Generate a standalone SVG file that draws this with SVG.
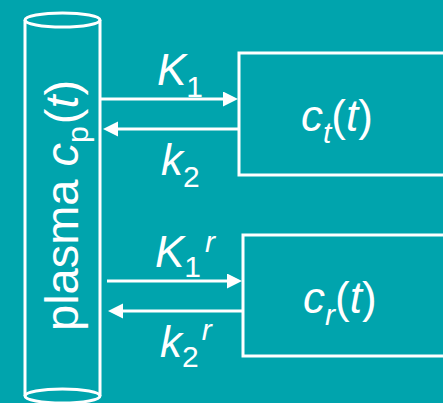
<svg xmlns="http://www.w3.org/2000/svg" width="443" height="403" viewBox="0 0 443 403">
<defs>
<style>
.bg{fill:#00A4AD}
.ln{stroke:#fff;stroke-width:3;fill:none}
.t{fill:#fff;font-family:"Liberation Sans",Arial,sans-serif;font-size:44px}
.i{font-style:italic}
.s{font-size:30px}
</style>
<marker id="ah" markerUnits="userSpaceOnUse" markerWidth="16" markerHeight="16" refX="2" refY="7.5" orient="auto">
<path d="M0,0 L15,7.5 L0,15 Z" fill="#fff"/>
</marker>
</defs>
<rect class="bg" x="0" y="0" width="443" height="403"/>
<g id="plasma">
<line class="ln" x1="25" y1="20" x2="25" y2="396"/>
<line class="ln" x1="100" y1="20" x2="100" y2="396"/>
<ellipse class="ln" cx="62.5" cy="20" rx="37.5" ry="7"/>
<ellipse class="ln" cx="62.5" cy="396" rx="37.5" ry="7"/>
<text class="t" transform="translate(78,331) rotate(-90)" style="font-size:47px">plasma <tspan class="i">c</tspan><tspan style="font-size:30px" dy="10">p</tspan><tspan dx="2" dy="-10">(</tspan><tspan class="i">t</tspan>)</text>
</g>
<g id="ct">
<rect class="ln" x="239" y="53" width="220" height="122"/>
<text class="t" x="301" y="131"><tspan class="i">c</tspan><tspan class="i s" dy="12">t</tspan><tspan dy="-12">(</tspan><tspan class="i">t</tspan>)</text>
</g>
<g id="cr">
<rect class="ln" x="243" y="235" width="220" height="121"/>
<text class="t" x="303" y="313"><tspan class="i">c</tspan><tspan class="i s" dy="12">r</tspan><tspan dy="-12">(</tspan><tspan class="i">t</tspan>)</text>
</g>
<g id="connectors">
<line class="ln" x1="100" y1="99" x2="225" y2="99" marker-end="url(#ah)"/>
<line class="ln" x1="239" y1="129" x2="116" y2="129" marker-end="url(#ah)"/>
<line class="ln" x1="107" y1="281" x2="229" y2="281" marker-end="url(#ah)"/>
<line class="ln" x1="243" y1="311" x2="121" y2="311" marker-end="url(#ah)"/>
<text class="t" x="157" y="85"><tspan class="i">K</tspan><tspan class="s" dy="12">1</tspan></text>
<text class="t" x="161" y="175"><tspan class="i">k</tspan><tspan class="s" dy="12">2</tspan></text>
<text class="t" x="155" y="267"><tspan class="i">K</tspan><tspan class="s" dy="10">1</tspan><tspan class="i s" dx="4" dy="-25">r</tspan></text>
<text class="t" x="160" y="357"><tspan class="i">k</tspan><tspan class="s" dy="10">2</tspan><tspan class="i s" dx="3" dy="-27">r</tspan></text>
</g>
</svg>
